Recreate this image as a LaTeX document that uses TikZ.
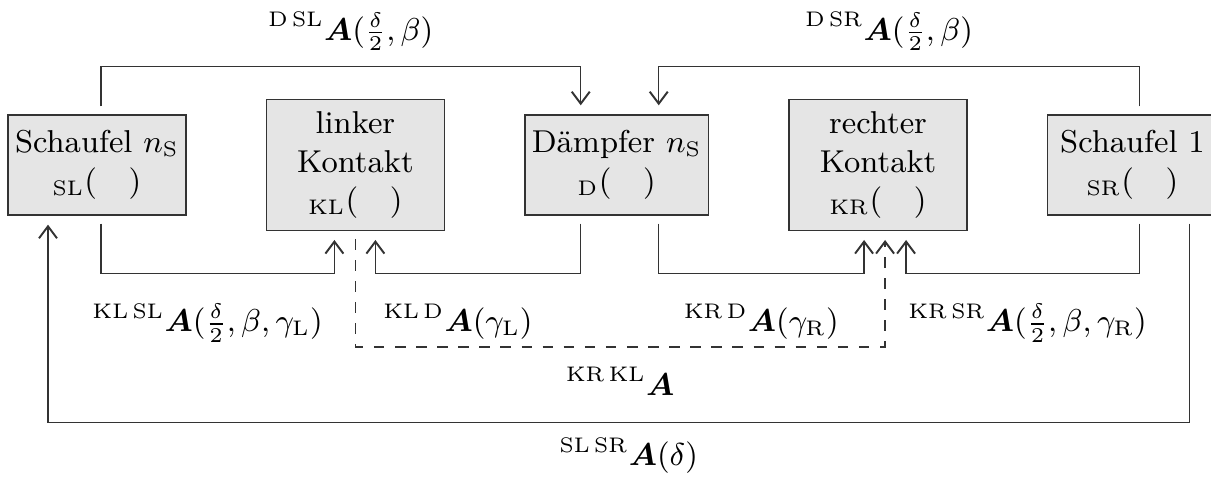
\documentclass[tikz,border=0pt]{standalone}
\usepackage{amsmath}
\usepackage{bm}
\usetikzlibrary{arrows.meta, positioning}

\begin{document}
\begin{tikzpicture}[every node/.style={font={\small}}, >={Straight Barb[length=1.2mm,width=1.8mm,line width=0.55pt]}, thin,
    block/.style={draw=black!80, fill=gray!20, align=center, minimum width=1.78cm, minimum height=1cm, inner xsep=2pt},
    link/.style={draw=black!80, shorten <=0.8mm, shorten >=0.9mm}]
    \useasboundingbox (0,0) rectangle (12.11,-4.80);

    \node[block] (sl) at (0.97,-1.65) {Schaufel $n_\mathrm{S}$\\ ${}_\mathrm{SL}(\quad)$};
    \node[block] (kl) [right=0.79cm of sl] {linker\\ Kontakt\\ ${}_\mathrm{KL}(\quad)$};
    \node[block] (d) [right=0.79cm of kl] {Dämpfer $n_\mathrm{S}$\\ ${}_\mathrm{D}(\quad)$};
    \node[block] (kr) [right=0.79cm of d] {rechter\\ Kontakt\\ ${}_\mathrm{KR}(\quad)$};
    \node[block, minimum width=1.7cm] (sr) [right=0.79cm of kr] {Schaufel 1\\ ${}_\mathrm{SR}(\quad)$};

    \draw[link, ->] ([xshift=0.4mm]sl.north) -- ++(0,0.48) -| ([xshift=-3.6mm]d.north) node[pos=.25, above=0.3mm, xshift=1mm] {${}^{\mathrm{D\,SL}}\bm{A}(\tfrac{\delta}{2},\beta)$};
    \draw[link, ->] ([xshift=0.7mm]sr.north) -- ++(0,0.48) -| ([xshift=4.2mm]d.north) node[pos=.25, above=0.3mm, xshift=-1mm] {${}^{\mathrm{D\,SR}}\bm{A}(\tfrac{\delta}{2},\beta)$};
    \draw[link, ->] ([xshift=0.4mm]sl.south) -- ++(0,-0.58) -| ([xshift=-2.1mm]kl.south) node[pos=.25, below=1.8mm, xshift=-1mm] {${}^{\mathrm{KL\,SL}}\bm{A}(\tfrac{\delta}{2},\beta,\gamma_\mathrm{L})$};
    \draw[link, ->] ([xshift=-3.6mm]d.south) -- ++(0,-0.58) -| ([xshift=2mm]kl.south) node[pos=.25, below=1.8mm, xshift=-2mm] {${}^{\mathrm{KL\,D}}\bm{A}(\gamma_\mathrm{L})$};
    \draw[link, ->] ([xshift=4.2mm]d.south) -- ++(0,-0.58) -| ([xshift=-1.4mm]kr.south) node[pos=.25, below=1.8mm] {${}^{\mathrm{KR\,D}}\bm{A}(\gamma_\mathrm{R})$};
    \draw[link, ->] ([xshift=0.7mm]sr.south) -- ++(0,-0.58) -| ([xshift=2.8mm]kr.south) node[pos=.25, below=1.8mm, xshift=0.5mm] {${}^{\mathrm{KR\,SR}}\bm{A}(\tfrac{\delta}{2},\beta,\gamma_\mathrm{R})$};
    \draw[link, ->, dashed] (kl.south) -- ++(0,-1.16) -| ([xshift=0.7mm]kr.south) node[pos=.25, below=0.8mm] {${}^{\mathrm{KR\,KL}}\bm{A}$};
    \draw[link, ->] ([xshift=5.7mm]sr.south) -- ++(0,-2.07) -| ([xshift=-4.9mm]sl.south) node[pos=.25, below=0.3mm, xshift=1mm] {${}^{\mathrm{SL\,SR}}\bm{A}(\delta)$};
\end{tikzpicture}
\end{document}
